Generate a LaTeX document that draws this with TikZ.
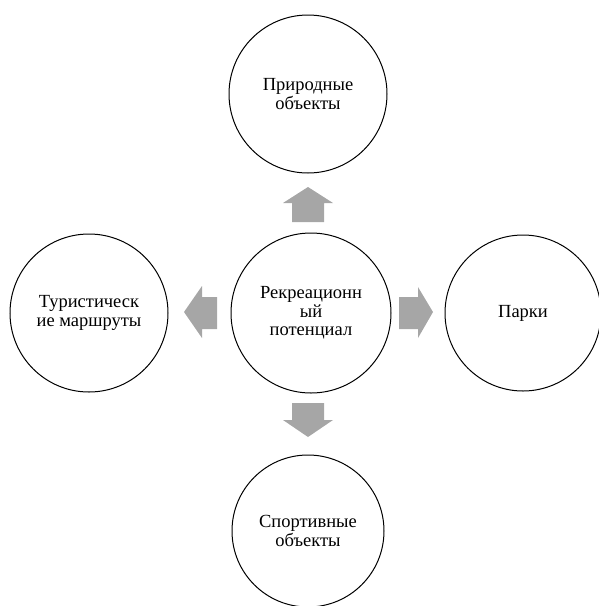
\documentclass[tikz,border=0pt]{standalone}
\usepackage{fontspec}
\setmainfont{Liberation Serif}
\begin{document}
\begin{tikzpicture}[x=1pt,y=-1pt,
  circ/.style={circle,draw=black,line width=1pt,inner sep=0pt,align=center,
    font=\fontsize{18.5}{18.5}\selectfont},
  blockarrow/.style={fill=arrowgray,draw=none}]
\definecolor{arrowgray}{HTML}{A6A6A6}
\useasboundingbox (0,0) rectangle (598,606);
\node[circ,minimum size=158pt] (top) at (308,94) {Природные\\объекты};
\node[circ,minimum size=160pt] (mid) at (311,313) {Рекреационн\\ый\\потенциал};
\node[circ,minimum size=158pt] (left) at (89,313) {Туристическ\\ие маршруты};
\node[circ,minimum size=156pt] (right) at (523,313) {Парки};
\node[circ,minimum size=152pt] (bot) at (308,531) {Спортивные\\объекты};
% up arrow
\fill[blockarrow] (292,222) -- (292,203) -- (283,203) -- (308,187) -- (333,203) -- (324,203) -- (324,222) -- cycle;
% down arrow
\fill[blockarrow] (292,403) -- (292,420) -- (283,420) -- (308,437) -- (333,420) -- (324,420) -- (324,403) -- cycle;
% left arrow
\fill[blockarrow] (217,297) -- (202,297) -- (202,286) -- (184,312) -- (202,338) -- (202,329) -- (217,329) -- cycle;
% right arrow
\fill[blockarrow] (399,297) -- (418,297) -- (418,287) -- (433,312) -- (418,338) -- (418,329) -- (399,329) -- cycle;
\end{tikzpicture}
\end{document}
